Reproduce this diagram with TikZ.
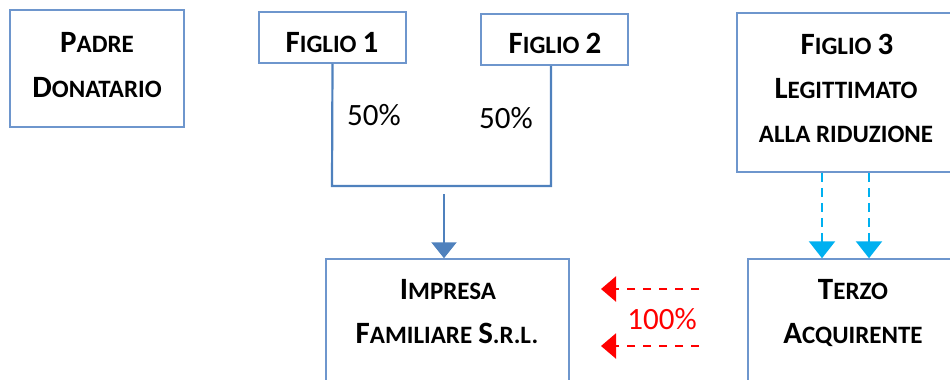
\documentclass[tikz,border=0pt]{standalone}
\usepackage{fontspec}
\setmainfont{Carlito}
\usetikzlibrary{arrows.meta}
\definecolor{boxblue}{RGB}{110,150,205}
\definecolor{linkblue}{RGB}{79,129,189}
\definecolor{cyanarr}{RGB}{0,176,240}
\definecolor{redarr}{RGB}{255,0,0}
\newcommand\Bg[1]{{\fontsize{31}{31}\selectfont #1}}
\newcommand\Sm[1]{{\fontsize{25}{25}\selectfont #1}}
\tikzset{
  box/.style={draw=boxblue, line width=1.5pt, rectangle, inner sep=0pt},
  lbl/.style={anchor=base, font=\fontsize{27}{27}\selectfont\bfseries, inner sep=0pt},
  pct/.style={anchor=base, font=\fontsize{31}{31}\selectfont, inner sep=0pt},
  conn/.style={draw=linkblue, line width=2.2pt},
  bluearrow/.style={conn, -{Triangle[width=25pt,length=16pt]}},
  cyanarrow/.style={draw=cyanarr, line width=2.5pt, dash pattern=on 9pt off 6pt, -{Triangle[width=26pt,length=17pt]}},
  redarrow/.style={draw=redarr, line width=2.2pt, dash pattern=on 8pt off 8pt, -{Triangle[width=25pt,length=15pt]}},
}
\begin{document}
\begin{tikzpicture}[x=1pt,y=-1pt]
\useasboundingbox (0,0) rectangle (950,380);
\clip (0,0) rectangle (950,380);
% boxes
\node[box, minimum width=174pt, minimum height=117pt] (padre) at (97,68.5) {};
\node[box, minimum width=147pt, minimum height=51pt] (f1) at (332.5,37.5) {};
\node[box, minimum width=147pt, minimum height=51pt] (f2) at (554.5,39.5) {};
\node[box, minimum width=220pt, minimum height=159pt] (f3) at (847,92.5) {};
\node[box, minimum width=243pt, minimum height=160pt] (imp) at (447.5,339) {};
\node[box, minimum width=210pt, minimum height=160pt] (terzo) at (853,339) {};
% texts
\node[lbl] (tpadre1) at (97,52) {\Bg{P}\Sm{ADRE}};
\node[lbl] (tpadre2) at (97,97) {\Bg{D}\Sm{ONATARIO}};
\node[lbl] (tf1) at (332,52) {\Bg{F}\Sm{IGLIO} \Bg{1}};
\node[lbl] (tf2) at (555,53) {\Bg{F}\Sm{IGLIO} \Bg{2}};
\node[lbl] (tf3a) at (847,54) {\Bg{F}\Sm{IGLIO} \Bg{3}};
\node[lbl] (tf3b) at (846,98) {\Bg{L}\Sm{EGITTIMATO}};
\node[lbl] (tf3c) at (846,142) {\Sm{ALLA RIDUZIONE}};
\node[lbl] (timp1) at (448,299) {\Bg{I}\Sm{MPRESA}};
\node[lbl] (timp2) at (447,343) {\Bg{F}\Sm{AMILIARE} \Bg{S}\Sm{.R.L.}};
\node[lbl] (tter1) at (853,299) {\Bg{T}\Sm{ERZO}};
\node[lbl] (tter2) at (853,343) {\Bg{A}\Sm{CQUIRENTE}};
\node[pct] (p1) at (374,125) {50\%};
\node[pct] (p2) at (506,128) {50\%};
\node[pct, text=redarr] (p3) at (662,329) {100\%};
% connectors from Figlio 1 and Figlio 2
\coordinate (c1) at (332,186);
\coordinate (c2) at (551,186);
\draw[conn] (f1.south |- f1.south) -- (c1) -- (c2) -- (c2 |- f2.south);
\coordinate (jn) at (444,194);
\draw[bluearrow] (jn) -- (jn |- imp.north);
% dashed cyan arrows
\coordinate (ca) at (822,172);
\coordinate (cb) at (869,172);
\draw[cyanarrow] (ca |- f3.south) -- (ca |- terzo.north);
\draw[cyanarrow] (cb |- f3.south) -- (cb |- terzo.north);
% dashed red arrows
\coordinate (ra) at (699,289);
\coordinate (rat) at (601,289);
\coordinate (rb) at (699,346);
\coordinate (rbt) at (601,346);
\draw[redarrow] (ra) -- (rat);
\draw[redarrow] (rb) -- (rbt);
\end{tikzpicture}
\end{document}
